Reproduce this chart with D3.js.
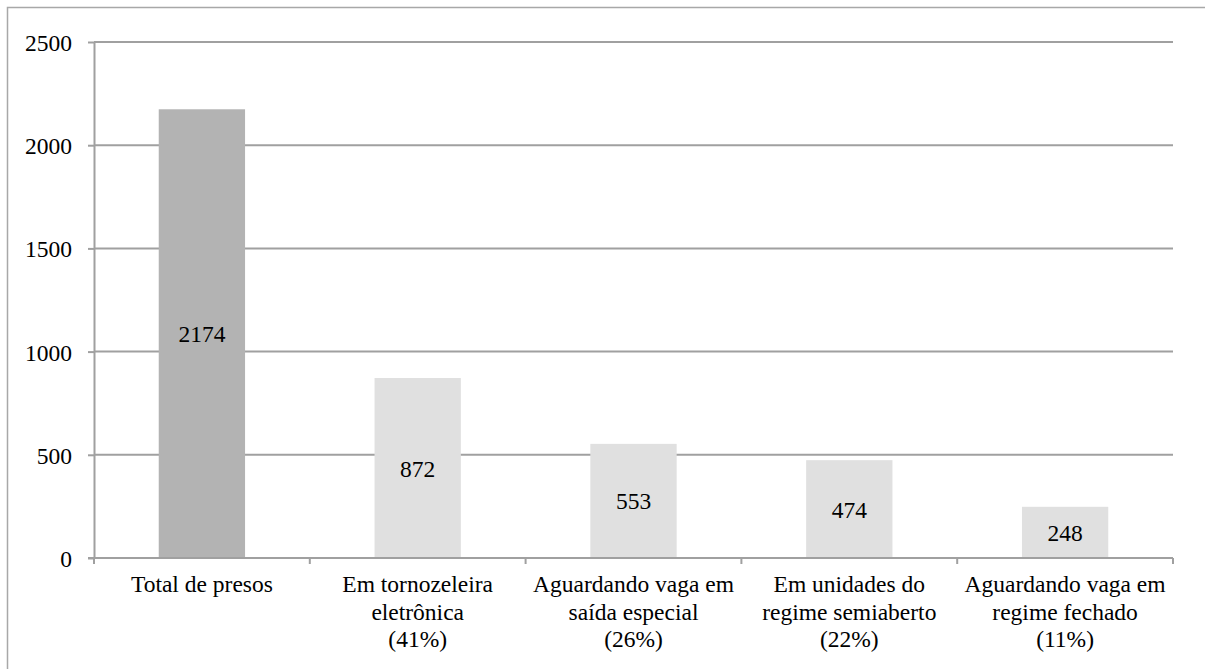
<!DOCTYPE html>
<html><head><meta charset="utf-8">
<script src="https://cdn.jsdelivr.net/npm/d3@7"></script>
<style>html,body{margin:0;padding:0;background:#fff;}svg{display:block;}
svg text{font-family:"Liberation Serif","Times New Roman","DejaVu Serif",serif !important;}</style>
</head><body>
<svg id="chart" width="1205" height="669"></svg>
<script>
const categories = [
  ["Total de presos"],
  ["Em tornozeleira", "eletrônica", "(41%)"],
  ["Aguardando vaga em", "saída especial", "(26%)"],
  ["Em unidades do", "regime semiaberto", "(22%)"],
  ["Aguardando vaga em", "regime fechado", "(11%)"]
];
const values = [2174, 872, 553, 474, 248];
const barColors = ["#b3b3b3", "#e0e0e0", "#e0e0e0", "#e0e0e0", "#e0e0e0"];
const yTicks = [0, 500, 1000, 1500, 2000, 2500];

(function () {
const svg = d3.select("#chart");
const pLeft = 94, pRight = 1173, pTop = 42, pBottom = 558;
const grid = "#a0a0a0";
const fs = 23.5;

// outer frame
svg.append("rect").attr("x", 7.5).attr("y", 7.5).attr("width", 1205).attr("height", 700)
  .attr("fill", "none").attr("stroke", "#a8a8a8").attr("stroke-width", 1.5);

const x = d3.scaleBand().domain(d3.range(categories.length)).range([pLeft, pRight]).paddingInner(0).paddingOuter(0);
const y = d3.scaleLinear().domain([0, 2500]).range([pBottom, pTop]);

// gridlines
svg.append("g").selectAll("line").data(yTicks.filter(d => d > 0)).join("line")
  .attr("x1", pLeft).attr("x2", pRight).attr("y1", d => y(d)).attr("y2", d => y(d))
  .attr("stroke", grid).attr("stroke-width", 2);

// bars
const bw = x.bandwidth() * 0.4;
svg.append("g").selectAll("rect").data(values).join("rect")
  .attr("x", (d, i) => x(i) + x.bandwidth() / 2 - bw / 2)
  .attr("width", bw)
  .attr("y", d => y(d))
  .attr("height", d => y(0) - y(d))
  .attr("fill", (d, i) => barColors[i]);

// value labels
svg.append("g").selectAll("text").data(values).join("text")
  .attr("x", (d, i) => x(i) + x.bandwidth() / 2)
  .attr("y", d => (y(d) + y(0)) / 2 + 8.5)
  .attr("text-anchor", "middle").attr("font-size", fs).attr("fill", "#000")
  .text(d => d);

// y axis
const yAxis = svg.append("g").attr("transform", `translate(${pLeft},0)`)
  .call(d3.axisLeft(y).tickValues(yTicks).tickFormat(d3.format("d")).tickSize(6).tickSizeOuter(0).tickPadding(16));
yAxis.select(".domain").attr("stroke", grid).attr("stroke-width", 2);
yAxis.selectAll(".tick line").attr("stroke", grid).attr("stroke-width", 2);
yAxis.selectAll(".tick text").attr("font-size", fs).attr("fill", "#000").attr("dy", null).attr("y", 8.5);

// x axis
svg.append("line").attr("x1", pLeft - 6).attr("x2", pRight).attr("y1", pBottom).attr("y2", pBottom)
  .attr("stroke", grid).attr("stroke-width", 2);
svg.append("g").selectAll("line").data(d3.range(categories.length + 1)).join("line")
  .attr("x1", i => pLeft + i * x.bandwidth()).attr("x2", i => pLeft + i * x.bandwidth())
  .attr("y1", pBottom).attr("y2", pBottom + 6)
  .attr("stroke", grid).attr("stroke-width", 2);

// category labels
const lab = svg.append("g").selectAll("text").data(categories).join("text")
  .attr("text-anchor", "middle").attr("font-size", fs).attr("fill", "#000");
lab.each(function(lines, i) {
  const t = d3.select(this);
  lines.forEach((s, j) => {
    t.append("tspan").attr("x", x(i) + x.bandwidth() / 2).attr("y", 592 + j * 27.5).text(s);
  });
});
})();
</script>
</body></html>
